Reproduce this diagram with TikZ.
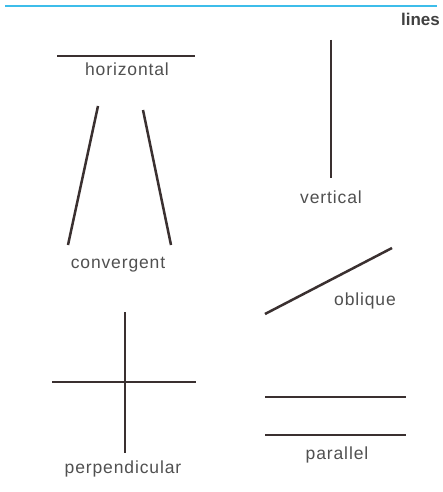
\documentclass[tikz,border=0pt]{standalone}
\usepackage{fontspec}
\setmainfont{Liberation Sans}[LetterSpace=5]
\newfontfamily\titlefont{Liberation Sans}[LetterSpace=0]
\definecolor{inkline}{HTML}{3A3030}
\definecolor{labelgray}{HTML}{505050}
\definecolor{topblue}{HTML}{3DBDEA}
\begin{document}
\begin{tikzpicture}[x=1pt,y=-1pt,
  stroke/.style={draw=inkline,line width=2.5pt},
  lbl/.style={text=labelgray,font=\fontsize{17.5}{19}\selectfont,anchor=base,inner sep=0pt}]
\useasboundingbox (0,0) rectangle (442,492);
\fill[white] (0,0) rectangle (442,492);
% top rule
\coordinate (tl) at (5,6);
\coordinate (tr) at (437,6);
\draw[topblue,line width=2.6pt] (tl) -- (tr);
\node[anchor=base east,inner sep=0pt,text=black!75,font=\titlefont\bfseries\fontsize{17}{19}\selectfont] (title) at (440,26) {lines};
% horizontal
\coordinate (h1) at (57,56);
\coordinate (h2) at (195,56);
\draw[stroke] (h1) -- (h2);
\node[lbl] (hl) at (127,76) {horizontal};
% convergent
\coordinate (c1t) at (98,106);
\coordinate (c1b) at (68,245);
\coordinate (c2t) at (143,110);
\coordinate (c2b) at (171,245);
\draw[stroke] (c1t) -- (c1b);
\draw[stroke] (c2t) -- (c2b);
\node[lbl] (cl) at (118,268) {convergent};
% vertical
\coordinate (v1) at (331,40);
\coordinate (v2) at (331,178);
\draw[stroke] (v1) -- (v2);
\node[lbl] (vl) at (331,203) {vertical};
% oblique
\coordinate (o1) at (265,314);
\coordinate (o2) at (392,248);
\draw[stroke] (o1) -- (o2);
\node[lbl] (ol) at (365,305) {oblique};
% perpendicular
\coordinate (p1) at (52,382);
\coordinate (p2) at (196,382);
\coordinate (p3) at (125,312);
\coordinate (p4) at (125,453);
\draw[stroke] (p1) -- (p2);
\draw[stroke] (p3) -- (p4);
\node[lbl] (pl) at (123,473) {perpendicular};
% parallel
\coordinate (a1) at (265,397);
\coordinate (a2) at (406,397);
\coordinate (b1) at (265,435);
\coordinate (b2) at (406,435);
\draw[stroke] (a1) -- (a2);
\draw[stroke] (b1) -- (b2);
\node[lbl] (al) at (337,459) {parallel};
\end{tikzpicture}
\end{document}
